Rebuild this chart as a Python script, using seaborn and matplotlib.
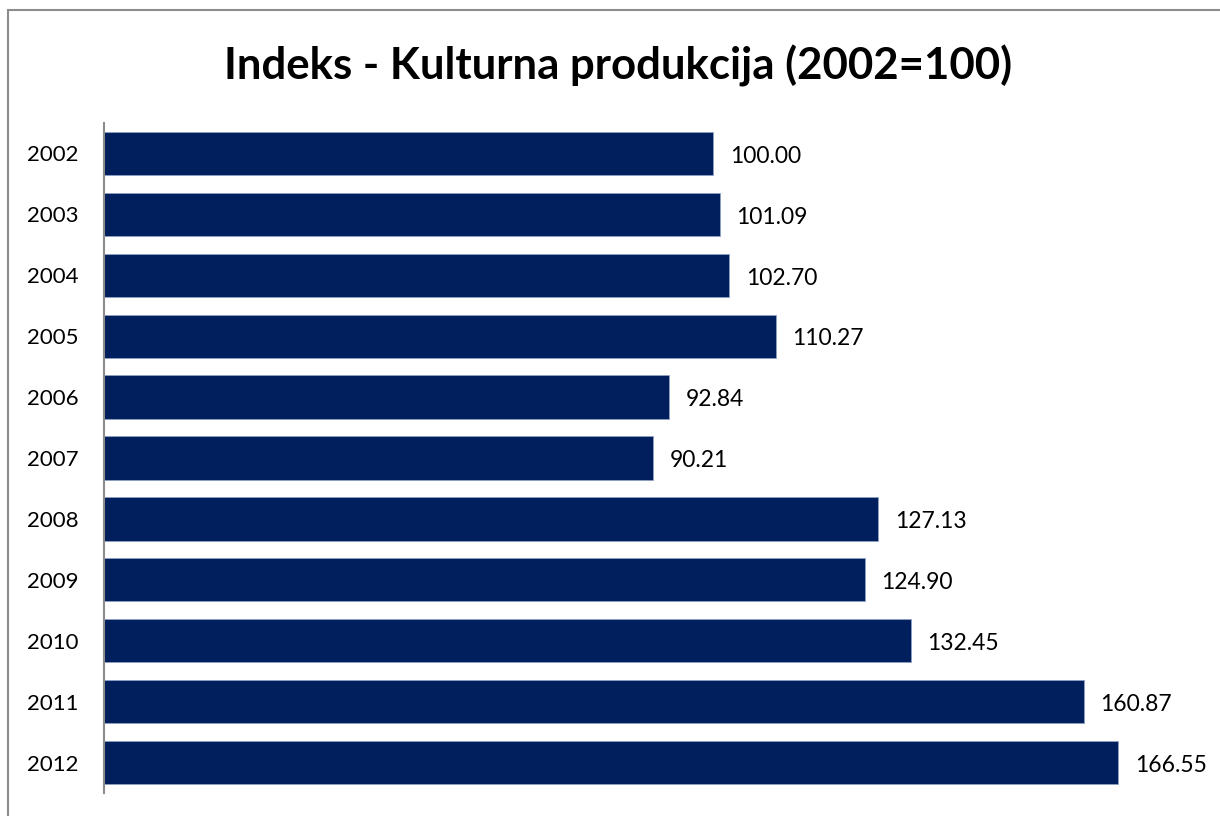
import matplotlib
matplotlib.use("Agg")
import matplotlib.pyplot as plt
import seaborn as sns
import pandas as pd
from matplotlib.patches import Rectangle

years = ['2002', '2003', '2004', '2005', '2006', '2007', '2008', '2009', '2010', '2011', '2012']
index_values = [100.00, 101.09, 102.70, 110.27, 92.84, 90.21, 127.13, 124.90, 132.45, 160.87, 166.55]

df = pd.DataFrame({'year': years, 'index': index_values})

sns.set_style('white')
plt.rcParams['font.family'] = ['Lato', 'DejaVu Sans']
plt.rcParams['text.color'] = 'black'

fig = plt.figure(figsize=(12.2, 8.16), dpi=100)
ax = fig.add_axes([104 / 1220, 1 - 793 / 816, (1210 - 104) / 1220, (793 - 123) / 816])

sns.barplot(data=df, x='index', y='year', orient='h', color='#001F5C',
            saturation=1, width=0.71, ax=ax, edgecolor='#8EA2C6', linewidth=0.6)

labels = ax.bar_label(ax.containers[0], labels=[f'{v:.2f}' for v in index_values],
                      padding=12, fontsize=16.5, color='black')
for t in labels:
    t.set_va('center')
    t.set_y(-2)

ax.set_xlim(0, 181.6)
ax.set_ylim(10.5, -0.5)
ax.set_xlabel('')
ax.set_ylabel('')
ax.set_xticks([])
ax.tick_params(axis='y', length=0, pad=18, labelsize=16, labelcolor='black')
for s in ['top', 'right', 'bottom']:
    ax.spines[s].set_visible(False)
ax.spines['left'].set_color('#8C8C8C')
ax.spines['left'].set_linewidth(1.5)

fig.text(618 / 1220, 1 - 66 / 816, 'Indeks - Kulturna produkcija (2002=100)',
         ha='center', va='center', fontsize=31.5, fontweight='bold', color='black')

fig.patches.append(Rectangle((8 / 1220, -0.01), 1.02, 1 - 10 / 816 + 0.01,
                             transform=fig.transFigure, fill=False,
                             edgecolor='#8C8C8C', linewidth=1.5))

fig.savefig('out.png', dpi=100)
